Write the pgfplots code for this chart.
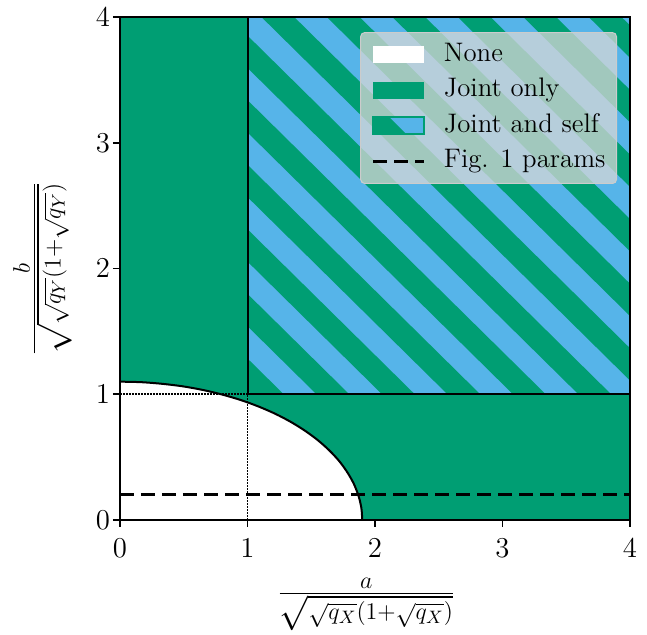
\documentclass[border=0pt]{standalone}
\usepackage{pgfplots}
\usepackage{pgfplotstable}
\pgfplotsset{compat=1.18}
\definecolor{cgreen}{RGB}{0,158,115}
\definecolor{cblue}{RGB}{86,180,233}
\definecolor{lgfill}{RGB}{215,215,215}
\definecolor{lgedge}{RGB}{204,204,204}

\pgfplotstableread{
x y
0 1.1
0.166 1.096
0.330 1.083
0.492 1.063
0.650 1.034
0.803 0.997
0.950 0.953
1.090 0.901
1.221 0.843
1.343 0.778
1.455 0.707
1.556 0.631
1.645 0.550
1.722 0.465
1.785 0.376
1.835 0.285
1.871 0.191
1.893 0.096
1.900 0.000
}\boundary

\begin{document}
\begin{tikzpicture}
\begin{axis}[
  width=255pt, height=251.5pt, scale only axis,
  xmin=0, xmax=4, ymin=0, ymax=4,
  xtick={0,1,2,3,4}, ytick={0,1,2,3,4},
  tick align=outside, tick pos=left, major tick length=3.5pt,
  tick style={black, line width=0.8pt},
  axis line style={line width=1pt},
  axis on top,
  ticklabel style={font=\fontsize{15}{18}\selectfont},
  xticklabel style={yshift=-2.3pt},
  yticklabel style={xshift=2pt},
  label style={font=\fontsize{18.6}{22}\selectfont},
  xlabel={$\frac{a}{\sqrt{\sqrt{q_X}(1+\sqrt{q_X})}}$},
  ylabel={$\frac{b}{\sqrt{\sqrt{q_Y}(1+\sqrt{q_Y})}}$},
  xlabel style={at={(axis description cs:0.483,-0.1153)}, anchor=north, inner sep=0pt},
  ylabel style={at={(axis description cs:-0.152,0.5)}, anchor=center, inner sep=0pt},
  legend style={at={(axis description cs:0.9745,0.970)}, anchor=north east,
    fill=lgfill, fill opacity=0.75, draw opacity=1, text opacity=1,
    draw=lgedge, line width=0.5pt, rounded corners=2pt,
    font=\fontsize{13.4}{15}\selectfont,
    nodes={inner xsep=0pt, inner ysep=1pt, text height=10pt, text depth=3.4pt},
    row sep=2.35pt, inner xsep=5.5pt, inner ysep=3.4pt,
    /tikz/every odd column/.append style={column sep=9pt}},
  legend cell align=left,
]
% green background
\addplot[fill=cgreen, draw=none, forget plot] coordinates {(0,0) (4,0) (4,4) (0,4)} -- cycle;
% white region
\addplot[fill=white, draw=none, forget plot] table {\boundary} \closedcycle;
% hatched region: blue face with green diagonal bands
\addplot[fill=cblue, draw=none, forget plot] coordinates {(1,1) (4,1) (4,4) (1,4)} -- cycle;
\addplot[fill=cgreen, draw=none, forget plot] coordinates {(1,1.028) (1,1.284) (1.284,1) (1.028,1)} -- cycle;
\addplot[fill=cgreen, draw=none, forget plot] coordinates {(1,1.541) (1,1.798) (1.798,1) (1.541,1)} -- cycle;
\addplot[fill=cgreen, draw=none, forget plot] coordinates {(1,2.055) (1,2.312) (2.312,1) (2.055,1)} -- cycle;
\addplot[fill=cgreen, draw=none, forget plot] coordinates {(1,2.568) (1,2.825) (2.825,1) (2.568,1)} -- cycle;
\addplot[fill=cgreen, draw=none, forget plot] coordinates {(1,3.082) (1,3.339) (3.339,1) (3.082,1)} -- cycle;
\addplot[fill=cgreen, draw=none, forget plot] coordinates {(1,3.595) (1,3.852) (3.852,1) (3.595,1)} -- cycle;
\addplot[fill=cgreen, draw=none, forget plot] coordinates {(1.109,4) (1.366,4) (4,1.366) (4,1.109)} -- cycle;
\addplot[fill=cgreen, draw=none, forget plot] coordinates {(1.622,4) (1.879,4) (4,1.879) (4,1.622)} -- cycle;
\addplot[fill=cgreen, draw=none, forget plot] coordinates {(2.136,4) (2.393,4) (4,2.393) (4,2.136)} -- cycle;
\addplot[fill=cgreen, draw=none, forget plot] coordinates {(2.649,4) (2.906,4) (4,2.906) (4,2.649)} -- cycle;
\addplot[fill=cgreen, draw=none, forget plot] coordinates {(3.163,4) (3.420,4) (4,3.420) (4,3.163)} -- cycle;
\addplot[fill=cgreen, draw=none, forget plot] coordinates {(3.676,4) (3.933,4) (4,3.933) (4,3.676)} -- cycle;
\addplot[draw=black, line width=1pt, forget plot] coordinates {(1,4) (1,1) (4,1)};
% dotted guide lines
\addplot[black, line width=0.8pt, dash pattern=on 0.8pt off 0.7pt, forget plot] coordinates {(0,1) (1,1)};
\addplot[black, line width=0.8pt, dash pattern=on 0.8pt off 0.7pt, forget plot] coordinates {(1,0) (1,1)};
% boundary curve
\addplot[black, line width=1pt, smooth, forget plot] table {\boundary};
% Fig. 1 params
\addplot[black, line width=1.6pt, dash pattern=on 7pt off 3.5pt, forget plot] coordinates {(0,0.2) (4,0.2)};

% legend
\addlegendimage{legend image code/.code={
  \path[draw=none, fill=none, sharp corners] (0pt,-4.35pt) rectangle (25.5pt,4.35pt);
  \fill[white, draw=none, fill opacity=1, sharp corners] (0pt,-4.35pt) rectangle (25.5pt,4.35pt);}}
\addlegendentry{None}
\addlegendimage{legend image code/.code={
  \fill[cgreen, draw=none, fill opacity=1, sharp corners] (0pt,-4.35pt) rectangle (25.5pt,4.35pt);}}
\addlegendentry{Joint only}
\addlegendimage{legend image code/.code={
  \fill[cblue, draw=none, fill opacity=1, sharp corners] (0pt,-4.35pt) rectangle (25.5pt,4.35pt);
  \fill[cgreen, draw=none, fill opacity=1, sharp corners] (0pt,-4.35pt) -- (16.7pt,-4.35pt) -- (8pt,4.35pt) -- (0pt,4.35pt) -- cycle;
  \draw[cgreen, line width=1pt, fill=none, draw opacity=1, sharp corners] (0pt,-4.35pt) rectangle (25.5pt,4.35pt);}}
\addlegendentry{Joint and self}
\addlegendimage{legend image code/.code={
  \path[draw=none, fill=none, sharp corners] (0pt,-4.35pt) rectangle (25.5pt,4.35pt);
  \draw[black, line width=1.6pt, fill=none, draw opacity=1, sharp corners, dash pattern=on 7pt off 3.5pt] (0pt,0pt) -- (25.5pt,0pt);}}
\addlegendentry{Fig. 1 params}
\end{axis}
\pgfresetboundingbox
\path ([xshift=-60pt,yshift=-57.5pt]current axis.south west) rectangle ([xshift=8.5pt,yshift=8.5pt]current axis.north east);
\end{tikzpicture}
\end{document}
